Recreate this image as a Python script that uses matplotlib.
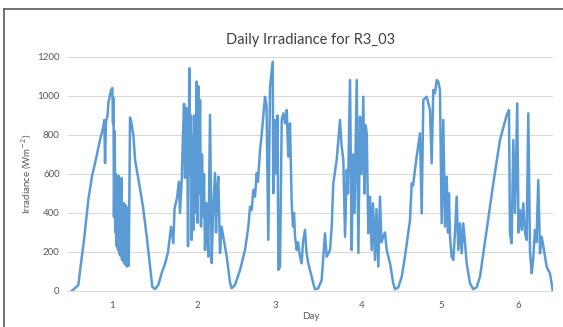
import matplotlib
matplotlib.use('Agg')
import matplotlib.pyplot as plt
from matplotlib.lines import Line2D

# Datos: tiempo en dias y irradiancia (W/m2)
day = [0.504, 0.585, 0.618, 0.655, 0.708, 0.754, 0.791, 0.852, 0.893, 0.905, 0.914, 0.926, 0.945, 0.955, 0.988, 1.004,
       1.012, 1.018, 1.024, 1.033, 1.040, 1.049, 1.056, 1.065, 1.074, 1.082, 1.091, 1.099, 1.107, 1.116, 1.123, 1.132,
       1.140, 1.148, 1.157, 1.165, 1.172, 1.181, 1.189, 1.197, 1.206, 1.222, 1.240, 1.263, 1.284, 1.333, 1.382, 1.428,
       1.468, 1.496, 1.530, 1.570, 1.612,
       1.653, 1.690, 1.727, 1.755, 1.770, 1.801, 1.825, 1.837, 1.858, 1.874, 1.887, 1.899, 1.911, 1.924, 1.936, 1.952,
       1.964, 1.973, 1.982, 1.991, 2.001, 2.012, 2.022, 2.043, 2.053, 2.063, 2.071, 2.084, 2.096, 2.108, 2.124, 2.133,
       2.145, 2.164, 2.186, 2.207, 2.228, 2.244, 2.268, 2.281, 2.293, 2.309, 2.330, 2.349, 2.371, 2.413, 2.454, 2.474,
       2.515, 2.577, 2.638, 2.679, 2.700, 2.720, 2.741, 2.761, 2.782, 2.798, 2.823,
       2.841, 2.863, 2.884, 2.903, 2.925, 2.946, 2.979, 2.987, 3.008, 3.026, 3.039, 3.049, 3.069, 3.090, 3.110, 3.131,
       3.152, 3.171, 3.192, 3.213, 3.229, 3.241, 3.254, 3.275, 3.291, 3.315, 3.336, 3.352, 3.377, 3.395, 3.417, 3.438,
       3.479, 3.500, 3.540, 3.582, 3.602, 3.623, 3.644, 3.685, 3.706, 3.725, 3.767, 3.808,
       3.826, 3.849, 3.870, 3.891, 3.906, 3.931, 3.952, 3.968, 3.987, 4.014, 4.034, 4.054, 4.073, 4.095, 4.110, 4.122,
       4.137, 4.157, 4.177, 4.198, 4.214, 4.239, 4.257, 4.280, 4.300, 4.319, 4.341, 4.362, 4.383, 4.424, 4.464, 4.485,
       4.526, 4.568, 4.608, 4.670, 4.691, 4.707, 4.752, 4.793, 4.814, 4.834, 4.876, 4.916,
       4.937, 4.957, 4.978, 4.999, 5.018, 5.039, 5.060, 5.080, 5.101, 5.122, 5.138, 5.150, 5.163, 5.183, 5.204, 5.224,
       5.245, 5.265, 5.286, 5.307, 5.326, 5.347, 5.368, 5.409, 5.450, 5.491, 5.532, 5.614, 5.696, 5.778, 5.861, 5.889,
       5.901, 5.922, 5.942, 5.963, 5.991, 6.006, 6.025, 6.046, 6.065, 6.086, 6.107, 6.127, 6.148, 6.169, 6.185, 6.209,
       6.228, 6.250, 6.271, 6.292, 6.308, 6.333, 6.353, 6.369, 6.394, 6.427]

irradiance = [0, 30, 143, 260, 467, 590, 656, 774, 843, 877, 656, 868, 900, 964, 1031, 1041,
              860, 990, 380, 820, 300, 600, 230, 560, 210, 590, 190, 470, 180, 580, 160, 400,
              150, 450, 140, 440, 130, 430, 125, 300, 130, 890, 860, 800, 672, 554, 431, 278,
              125, 22, 10, 31, 92,
              140, 200, 330, 245, 420, 480, 560, 400, 560, 800, 960, 580, 940, 930, 230, 1142,
              600, 900, 262, 800, 313, 900, 400, 1074, 350, 1050, 500, 980, 330, 700, 381, 600,
              210, 450, 176, 903, 143, 400, 605, 300, 500, 586, 195, 330, 278, 176, 41, 14,
              31, 108, 210, 330, 432, 415, 518, 484, 605, 560, 723,
              791, 894, 996, 950, 262, 1048, 1176, 501, 877, 600, 900, 108, 125, 877, 911, 860,
              928, 689, 860, 450, 330, 400, 278, 210, 250, 176, 142, 250, 313, 200, 142, 108,
              39, 9, 14, 56, 176, 296, 176, 210, 330, 552, 672, 877,
              750, 672, 278, 620, 500, 1082, 210, 700, 400, 1082, 195, 894, 600, 996, 500, 850,
              809, 296, 484, 210, 450, 159, 420, 125, 484, 250, 278, 300, 210, 142, 39, 9,
              19, 73, 176, 364, 552, 540, 689, 809, 398, 980, 996, 928,
              655, 1031, 1014, 1082, 1074, 1031, 347, 877, 330, 586, 300, 500, 278, 176, 159, 300,
              484, 210, 347, 193, 347, 250, 142, 39, 9, 19, 73, 313, 552, 774, 903, 928,
              296, 245, 774, 400, 962, 300, 415, 313, 450, 300, 262, 911, 200, 91, 150, 313,
              250, 569, 193, 278, 240, 176, 125, 110, 91, 5]

day_ticks = [1.0, 2.05, 3.01, 4.08, 5.05, 6.0]
day_labels = ['1', '2', '3', '4', '5', '6']
y_ticks = [0, 200, 400, 600, 800, 1000, 1200]

plt.rcParams['font.family'] = ['Lato', 'DejaVu Sans']

fig = plt.figure(figsize=(5.63, 3.27), dpi=100)
ax = fig.add_axes([0.1208, 0.1101, 0.8614, 0.7156])

ax.plot(day, irradiance, color='#5B9BD5', linewidth=1.8, solid_joinstyle='round')

ax.set_xlim(0.458, 6.431)
ax.set_ylim(0, 1200)
ax.set_xticks(day_ticks)
ax.set_xticklabels(day_labels)
ax.set_yticks(y_ticks)
ax.tick_params(length=0, labelsize=7, colors='#595959')
ax.tick_params(axis='x', pad=7)
ax.tick_params(axis='y', pad=6)

ax.grid(True, axis='y', color='#D9D9D9', linewidth=0.75)
ax.set_axisbelow(True)
for s in ['top', 'right', 'left']:
    ax.spines[s].set_visible(False)
ax.spines['bottom'].set_color('#D9D9D9')
ax.spines['bottom'].set_linewidth(0.75)

ax.set_title('Daily Irradiance for R3_03', fontsize=10.5, color='#404040', pad=9)
ax.set_xlabel('Day', fontsize=7, color='#595959', labelpad=2)
ax.set_ylabel('Irradiance (Wm$^{-2}$)', fontsize=7, color='#595959', labelpad=2)

# Marco del grafico (recortado a la derecha y abajo)
fig.add_artist(Line2D([4 / 563, 4 / 563], [0, 1 - 9 / 327], color='#595959', linewidth=1.2))
fig.add_artist(Line2D([4 / 563, 1], [1 - 9 / 327, 1 - 9 / 327], color='#595959', linewidth=1.2))

fig.savefig('out.png', dpi=100)
